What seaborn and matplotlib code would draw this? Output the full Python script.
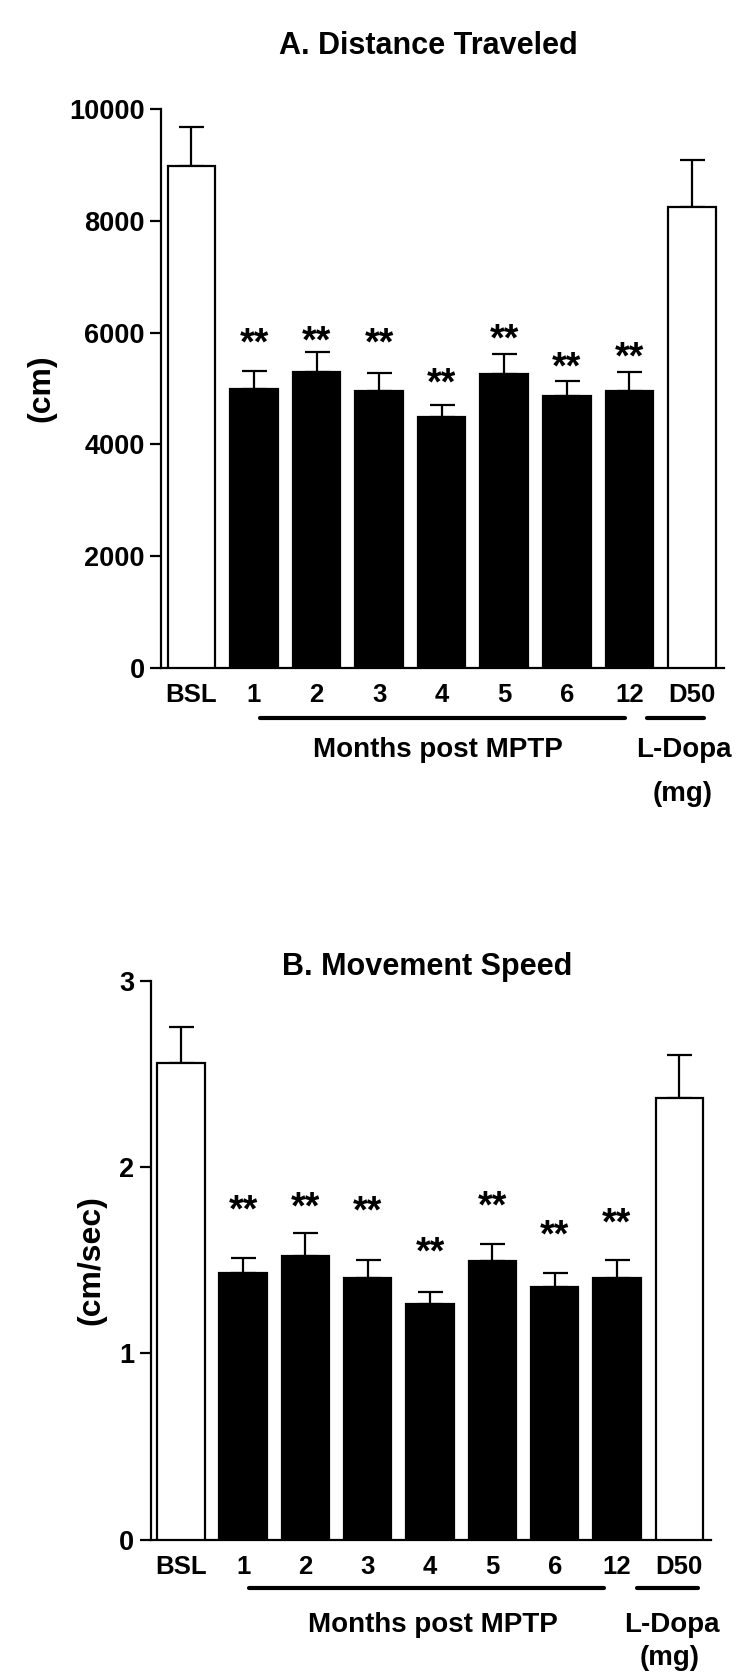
import numpy as np
import pandas as pd
import seaborn as sns
import matplotlib.pyplot as plt

categories = ['BSL', '1', '2', '3', '4', '5', '6', '12', 'D50']
bar_colors = ['white', 'black', 'black', 'black', 'black', 'black', 'black', 'black', 'white']

dist_mean = [8985, 4985, 5300, 4965, 4490, 5260, 4865, 4960, 8255]
dist_sem = [690, 323, 346, 305, 209, 358, 274, 329, 828]
dist_star = [np.nan, 5960, 5995, 5960, 5240, 6035, 5530, 5700, np.nan]

speed_mean = [2.556, 1.430, 1.521, 1.405, 1.262, 1.496, 1.356, 1.405, 2.369]
speed_sem = [0.193, 0.080, 0.125, 0.093, 0.066, 0.093, 0.077, 0.093, 0.230]
speed_star = [np.nan, 1.81, 1.825, 1.805, 1.585, 1.835, 1.68, 1.74, np.nan]

dist_ticks = [0, 2000, 4000, 6000, 8000, 10000]
speed_ticks = [0, 1, 2, 3]

sns.set_style('ticks')
plt.rcParams['font.family'] = ['Liberation Sans', 'DejaVu Sans']
plt.rcParams['font.weight'] = 'bold'
for key in ['text.color', 'axes.labelcolor', 'xtick.color', 'ytick.color', 'axes.edgecolor']:
    plt.rcParams[key] = 'black'

fig = plt.figure(figsize=(7.5, 16.8), dpi=100)
axA = fig.add_axes([0.2153, 0.6024, 0.7497, 0.3326])
axB = fig.add_axes([0.2013, 0.0836, 0.7467, 0.3327])


def draw_panel(ax, means, sems, stars, ticks, ylabel, grp):
    df = pd.DataFrame({'cat': categories, 'val': means})
    sns.barplot(data=df, x='cat', y='val', hue='cat', palette=bar_colors,
                edgecolor='black', linewidth=1.6, width=0.76, legend=False,
                saturation=1, ax=ax, zorder=3)
    xs = np.arange(len(categories))
    ax.errorbar(xs, means, yerr=[np.zeros(len(sems)), sems], fmt='none',
                ecolor='black', elinewidth=1.6, capsize=9, capthick=1.6, zorder=2)
    for i, s in enumerate(stars):
        if not np.isnan(s):
            ax.annotate('**', xy=(i, s), xytext=(0, -14), textcoords='offset points',
                        ha='center', va='baseline', fontsize=27, fontweight='bold')
    ax.set_xlim(-0.48, 8.51)
    ax.set_ylim(ticks[0], ticks[-1])
    ax.set_yticks(ticks)
    ax.set_xlabel('')
    ax.set_ylabel(ylabel, fontsize=23, fontweight='bold', labelpad=9)
    sns.despine(ax=ax)
    for sp in ['left', 'bottom']:
        ax.spines[sp].set_linewidth(1.6)
        ax.spines[sp].set_color('black')
    ax.tick_params(axis='y', length=8, width=1.6, labelsize=19.5, pad=4, colors='black')
    ax.tick_params(axis='x', length=0, labelsize=18.5, pad=11, colors='black')
    for lbl in ax.get_xticklabels() + ax.get_yticklabels():
        lbl.set_fontweight('bold')

    tr = ax.get_xaxis_transform()
    ax.plot([1 + grp[0], 7 - grp[1]], [grp[2], grp[2]], color='black', lw=3,
            solid_capstyle='round', transform=tr, clip_on=False)
    ax.plot([8 - grp[3], 8 + grp[4]], [grp[2], grp[2]], color='black', lw=3,
            solid_capstyle='round', transform=tr, clip_on=False)
    ax.text(grp[5], grp[6], 'Months post MPTP', transform=tr, ha='center', va='center',
            fontsize=20, fontweight='bold')
    ax.text(7.88, grp[6], 'L-Dopa', transform=tr, ha='center', va='center',
            fontsize=20, fontweight='bold')
    ax.text(7.85, grp[7], '(mg)', transform=tr, ha='center', va='center',
            fontsize=20, fontweight='bold')


draw_panel(axA, dist_mean, dist_sem, dist_star, dist_ticks, '(cm)',
           [0.09, 0.065, -0.090, 0.72, 0.19, 3.94, -0.147, -0.225])
draw_panel(axB, speed_mean, speed_sem, speed_star, speed_ticks, '(cm/sec)',
           [0.10, 0.20, -0.086, 0.67, 0.30, 4.04, -0.152, -0.212])

fig.text(0.5707, 0.9726, 'A. Distance Traveled', ha='center', va='center',
         fontsize=22, fontweight='bold')
fig.text(0.57, 0.4244, 'B. Movement Speed', ha='center', va='center',
         fontsize=22, fontweight='bold')

fig.savefig('out.png', dpi=100, facecolor='white')
